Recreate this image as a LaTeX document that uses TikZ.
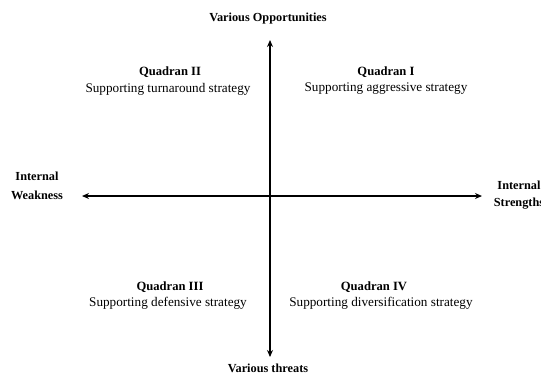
\documentclass[tikz,border=0pt]{standalone}
\usepackage{fontspec}
\setmainfont{Liberation Serif}
\usetikzlibrary{arrows.meta}
\begin{document}
\begin{tikzpicture}[x=1pt,y=-1pt,
  axis/.style={line width=1.3pt,-{Stealth[length=7pt,width=6pt]}},
  blab/.style={font=\fontsize{12.3}{13}\selectfont\bfseries,inner sep=0pt,align=center},
  qtitle/.style={font=\fontsize{12.6}{14}\selectfont\bfseries,inner sep=0pt},
  qsub/.style={font=\fontsize{13.2}{15}\selectfont,inner sep=0pt}]
\useasboundingbox (0,0) rectangle (541,376);
\coordinate (c) at (270,196);
\coordinate (top) at (270,40);
\coordinate (bot) at (270,357);
\coordinate (lft) at (82,196);
\coordinate (rgt) at (482,196);
\draw[axis] (c) -- (top);
\draw[axis] (c) -- (bot);
\draw[axis] (c) -- (lft);
\draw[axis] (c) -- (rgt);
\node[blab] (opp) at (268,19) {Various Opportunities};
\node[blab] (thr) at (268,368) {Various threats};
\node[blab,font=\fontsize{12.3}{18.5}\selectfont\bfseries] (weak) at (37,186) {Internal\\Weakness};
\node[blab,font=\fontsize{12.3}{17.5}\selectfont\bfseries] (str) at (519,195) {Internal\\Strengths};
\node[qtitle] (q2) at (170,72) {Quadran II};
\node[qsub] (q2s) at (168,89) {Supporting turnaround strategy};
\node[qtitle] (q1) at (386,72) {Quadran I};
\node[qsub] (q1s) at (386,89) {Supporting aggressive strategy};
\node[qtitle] (q3) at (170,287) {Quadran III};
\node[qsub] (q3s) at (168,303) {Supporting defensive strategy};
\node[qtitle] (q4) at (374,287) {Quadran IV};
\node[qsub] (q4s) at (381,303) {Supporting diversification strategy};
\end{tikzpicture}
\end{document}
